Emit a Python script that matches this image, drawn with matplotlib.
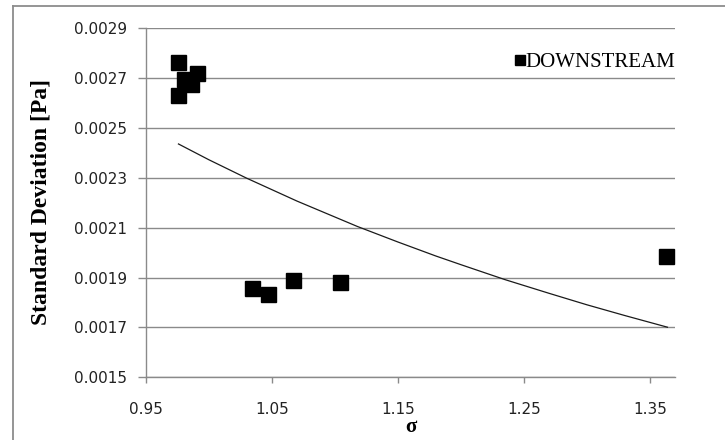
import matplotlib
matplotlib.use("Agg")
import matplotlib.pyplot as plt
from matplotlib.lines import Line2D

# Measured standard deviation of the downstream signal vs. cavitation number
sigma_downstream = [0.976, 0.980, 0.9856, 0.9907, 0.976, 1.034, 1.047, 1.0666, 1.104, 1.363]
std_downstream = [0.002766, 0.002698, 0.002675, 0.002721, 0.002633,
                  0.001858, 0.001834, 0.001891, 0.001884, 0.001988]

# Reference curve
sigma_curve = [0.976, 1.00, 1.03, 1.07, 1.118, 1.15, 1.18, 1.20, 1.235, 1.27, 1.30, 1.33, 1.364]
std_curve = [0.002436, 0.002373, 0.002299, 0.002207, 0.002105, 0.002043, 0.001987,
             0.001952, 0.001892, 0.001837, 0.001791, 0.001748, 0.001701]

x_ticks = [0.95, 1.05, 1.15, 1.25, 1.35]
y_ticks = [0.0015, 0.0017, 0.0019, 0.0021, 0.0023, 0.0025, 0.0027, 0.0029]

W, H = 725, 440
fig = plt.figure(figsize=(W / 100, H / 100), dpi=100)
fig.patch.set_facecolor("white")

# chart-area frame (left and top edges)
fx, fy = 13 / W, 1 - 6 / H
fig.add_artist(Line2D([fx, fx], [0, fy], transform=fig.transFigure, color="#8c8c8c", lw=1.3))
fig.add_artist(Line2D([fx, 1], [fy, fy], transform=fig.transFigure, color="#8c8c8c", lw=1.3))

left, right = 145.7 / W, 675 / W
bottom, top = 1 - 377.3 / H, 1 - 28.3 / H
ax = fig.add_axes([left, bottom, right - left, top - bottom])

grid_c = "#8a8a8a"
ax.set_xlim(0.95, 1.37)
ax.set_ylim(0.0015, 0.0029)
ax.set_xticks(x_ticks)
ax.set_yticks(y_ticks)
ax.set_xticklabels([f"{v:.2f}" for v in x_ticks])
ax.set_yticklabels([f"{v:.4f}" for v in y_ticks])

ax.yaxis.grid(True, color=grid_c, lw=1.0)
ax.set_axisbelow(True)
for s in ("top", "right"):
    ax.spines[s].set_visible(False)
for s in ("left", "bottom"):
    ax.spines[s].set_color(grid_c)
    ax.spines[s].set_linewidth(1.0)

ax.tick_params(axis="y", direction="out", length=5.5, width=1.0, color=grid_c,
               pad=8, labelsize=11, labelcolor="#222222")
ax.tick_params(axis="x", direction="out", length=4.5, width=1.0, color=grid_c,
               pad=13.5, labelsize=11, labelcolor="#222222")
for lab in ax.get_xticklabels() + ax.get_yticklabels():
    lab.set_family("DejaVu Sans")

ax.plot(sigma_curve, std_curve, color="#1a1a1a", lw=0.9, zorder=3)
ax.plot(sigma_downstream, std_downstream, linestyle="none", marker="s",
        markersize=10.8, color="black", label="DOWNSTREAM", zorder=4)

ax.set_ylabel("Standard Deviation [Pa]", family="Liberation Serif", fontweight="bold",
              fontsize=17)
ax.yaxis.set_label_coords(-0.178, 0.501)
ax.set_xlabel("σ", family="Liberation Serif", fontweight="bold", fontsize=15)
ax.xaxis.set_label_coords(0.501, -0.113)

leg = ax.legend(loc="center right", bbox_to_anchor=(1.0, 0.9034), frameon=False,
                borderpad=0, borderaxespad=0, handlelength=0.55, handletextpad=0.0,
                markerscale=0.7, prop={"family": "Liberation Serif", "size": 15})

fig.savefig("out.png", dpi=100, facecolor="white")
